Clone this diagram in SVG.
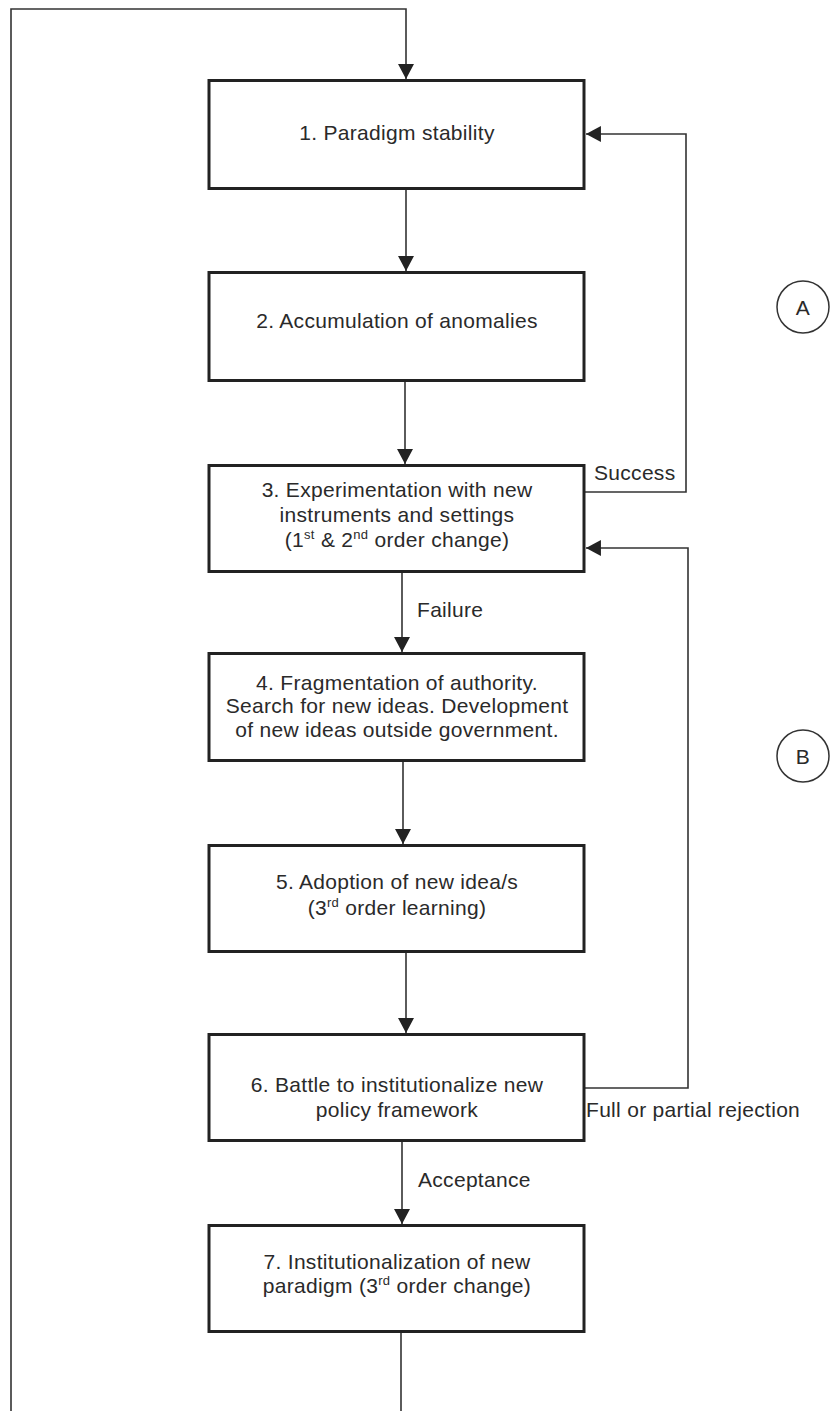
<svg xmlns="http://www.w3.org/2000/svg" width="832" height="1411" viewBox="0 0 832 1411">
<style>
.box{fill:#fff;stroke:#222;stroke-width:3}
.t{font-family:"Liberation Sans",Arial,sans-serif;font-size:21px;fill:#2a2a2a;letter-spacing:0.3px}
.c{text-anchor:middle}
.sup{font-size:13px}
.ln{fill:none;stroke:#333;stroke-width:1.6}
.circ{fill:#fff;stroke:#333;stroke-width:1.5}
</style>
<defs>
<marker id="ah" markerUnits="userSpaceOnUse" markerWidth="16" markerHeight="16" viewBox="0 0 14 15" refX="14" refY="7.5" orient="auto">
<path d="M0,0 L14,7.5 L0,15 z" fill="#222"/>
</marker>
</defs>
<g id="connectors">
<polyline class="ln" points="11,1411 11,9 406,9 406,79" marker-end="url(#ah)"/>
<line class="ln" x1="406" y1="190" x2="406" y2="271" marker-end="url(#ah)"/>
<line class="ln" x1="405" y1="382" x2="405" y2="464" marker-end="url(#ah)"/>
<line class="ln" x1="402" y1="573" x2="402" y2="652" marker-end="url(#ah)"/>
<line class="ln" x1="403" y1="762" x2="403" y2="844" marker-end="url(#ah)"/>
<line class="ln" x1="406" y1="953" x2="406" y2="1033" marker-end="url(#ah)"/>
<line class="ln" x1="402" y1="1142" x2="402" y2="1224" marker-end="url(#ah)"/>
<line class="ln" x1="401" y1="1333" x2="401" y2="1411"/>
<polyline class="ln" points="581,492 686,492 686,134 586,134" marker-end="url(#ah)"/>
<polyline class="ln" points="583,1088 688,1088 688,548 586,548" marker-end="url(#ah)"/>
<text class="t" x="594" y="480">Success</text>
<text class="t" x="417" y="617">Failure</text>
<text class="t" x="418" y="1187">Acceptance</text>
<text class="t" x="586" y="1117">Full or partial rejection</text>
</g>
<g id="n1">
<rect class="box" x="209" y="80.5" width="375" height="108"/>
<text class="t c" x="397" y="140">1. Paradigm stability</text>
</g>
<g id="n2">
<rect class="box" x="209" y="272.5" width="375" height="108"/>
<text class="t c" x="397" y="328">2. Accumulation of anomalies</text>
</g>
<g id="n3">
<rect class="box" x="209" y="465.5" width="375" height="106"/>
<text class="t c" x="397" y="497">3. Experimentation with new</text>
<text class="t c" x="397" y="522">instruments and settings</text>
<text class="t c" x="397" y="547">(1<tspan class="sup" dy="-8">st</tspan><tspan dy="8"> &amp; 2</tspan><tspan class="sup" dy="-8">nd</tspan><tspan dy="8"> order change)</tspan></text>
</g>
<g id="n4">
<rect class="box" x="209" y="653.5" width="375" height="107"/>
<text class="t c" x="397" y="690">4. Fragmentation of authority.</text>
<text class="t c" x="397" y="713">Search for new ideas. Development</text>
<text class="t c" x="397" y="737">of new ideas outside government.</text>
</g>
<g id="n5">
<rect class="box" x="209" y="845.5" width="375" height="106"/>
<text class="t c" x="397" y="889">5. Adoption of new idea/s</text>
<text class="t c" x="397" y="915">(3<tspan class="sup" dy="-8">rd</tspan><tspan dy="8"> order learning)</tspan></text>
</g>
<g id="n6">
<rect class="box" x="209" y="1034.5" width="375" height="106"/>
<text class="t c" x="397" y="1092">6. Battle to institutionalize new</text>
<text class="t c" x="397" y="1117">policy framework</text>
</g>
<g id="n7">
<rect class="box" x="209" y="1225.5" width="375" height="106"/>
<text class="t c" x="397" y="1269">7. Institutionalization of new</text>
<text class="t c" x="397" y="1293">paradigm (3<tspan class="sup" dy="-8">rd</tspan><tspan dy="8"> order change)</tspan></text>
</g>
<g id="A">
<circle class="circ" cx="803" cy="307" r="26"/>
<text class="t c" x="803" y="315">A</text>
</g>
<g id="B">
<circle class="circ" cx="803" cy="756" r="26"/>
<text class="t c" x="803" y="764">B</text>
</g>
</svg>
